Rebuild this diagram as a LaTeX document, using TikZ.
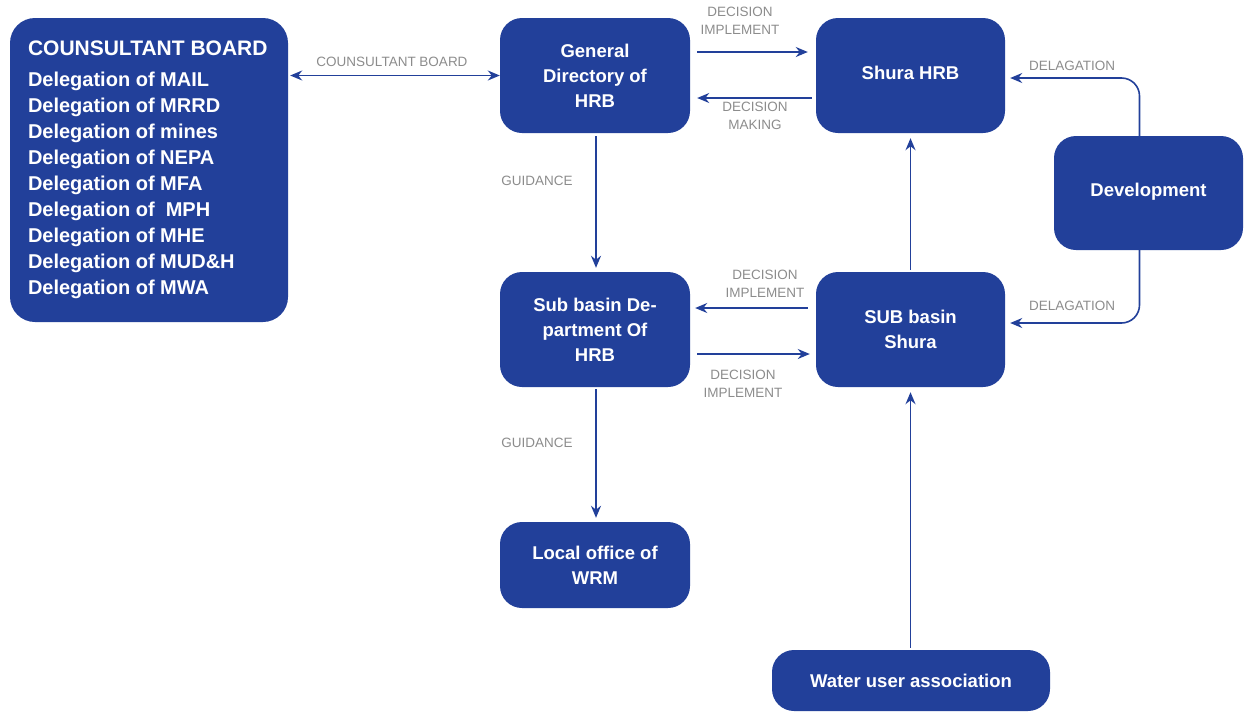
\documentclass[tikz,border=0pt]{standalone}
\usepackage{fontspec}
\setmainfont{Liberation Sans}
\usetikzlibrary{arrows.meta,calc}
\definecolor{hrbblue}{HTML}{22409A}
\definecolor{lblgray}{HTML}{8C8C8C}
\begin{document}
\begin{tikzpicture}[x=1pt,y=-1pt,
  box/.style={draw=none,fill=hrbblue,rounded corners=22pt,text=white,
    font=\fontsize{18.5}{25}\selectfont\bfseries,align=center,inner sep=0pt},
  lbl/.style={text=lblgray,font=\fontsize{13.5}{18.5}\selectfont,align=center,inner sep=0pt},
  arr/.style={draw=hrbblue,line width=1.6pt,-{Stealth[length=12pt,width=10pt]}},
  darr/.style={draw=hrbblue,line width=1.6pt,{Stealth[length=12pt,width=10pt]}-{Stealth[length=12pt,width=10pt]}}
]
\useasboundingbox (0,0) rectangle (1245,713);
% boxes
\node[box,minimum width=278pt,minimum height=304pt,rounded corners=25pt] (cb) at (149,170) {};
\node[box,anchor=west,align=left,font=\fontsize{20}{26}\selectfont\bfseries] (cbt) at ([xshift=18pt,yshift=0pt]cb.west)
  {{\fontsize{21}{26}\selectfont COUNSULTANT BOARD}\\[5pt]
   Delegation of MAIL\\
   Delegation of MRRD\\
   Delegation of mines\\
   Delegation of NEPA\\
   Delegation of MFA\\
   Delegation of \ MPH\\
   Delegation of MHE\\
   Delegation of MUD\&H\\
   Delegation of MWA};
\node[box,minimum width=190pt,minimum height=115pt] (gd) at (595,75.5) {General\\Directory of\\HRB};
\node[box,minimum width=189pt,minimum height=115pt] (sh) at (910.5,75.5) {\raisebox{5pt}{Shura HRB}};
\node[box,minimum width=189pt,minimum height=114pt] (dev) at (1148.5,193) {\raisebox{6pt}{Development}};
\node[box,minimum width=190pt,minimum height=115pt] (sbd) at (595,329.5) {Sub basin De-\\partment Of\\HRB};
\node[box,minimum width=189pt,minimum height=115pt] (sbs) at (910.5,329.5) {SUB basin\\Shura};
\node[box,minimum width=190pt,minimum height=86pt] (lo) at (595,565) {Local office of\\WRM};
\node[box,minimum width=278pt,minimum height=61pt] (wua) at (911,680.5) {Water user association};
% connectors
\draw[darr,shorten <=2pt] (cb.east |- gd.west) -- (gd.west);
\draw[arr,shorten <=7pt,shorten >=8pt] ([yshift=23.5pt]gd.east) -- ([yshift=23.5pt]sh.west);
\draw[arr,shorten <=4pt,shorten >=7pt] ([yshift=-22.5pt]sh.west) -- ([yshift=-22.5pt]gd.east);
\draw[arr,shorten <=3pt,shorten >=4pt] ([xshift=1pt]gd.south) -- ([xshift=1pt]sbd.north);
\draw[arr,shorten <=2pt,shorten >=4pt] ([xshift=1pt]sbd.south) -- ([xshift=1pt]lo.north);
\draw[arr,shorten <=8pt,shorten >=5pt] ([yshift=21.5pt]sbs.west) -- ([yshift=21.5pt]sbd.east);
\draw[arr,shorten <=7pt,shorten >=6pt] ([yshift=-24.5pt]sbd.east) -- ([yshift=-24.5pt]sbs.west);
\draw[arr,shorten <=2pt,shorten >=5pt] (sbs.north) -- (sh.south);
\draw[arr,shorten <=2pt,shorten >=5pt] (wua.north -| sbs.south) -- (sbs.south);
\draw[arr,rounded corners=18pt,shorten >=5pt] ([xshift=-9pt]dev.north) |- ([yshift=-2.5pt]sh.east);
\draw[arr,rounded corners=18pt,shorten >=5pt] ([xshift=-9pt]dev.south) |- ([yshift=6.5pt]sbs.east);
% labels
\node[lbl] (l1) at (392,62) {COUNSULTANT BOARD};
\node[lbl] (l2) at (740,21) {DECISION\\IMPLEMENT};
\node[lbl] (l3) at (755,116) {DECISION\\MAKING};
\node[lbl] (l4) at (537,181) {GUIDANCE};
\node[lbl] (l5) at (537,443) {GUIDANCE};
\node[lbl] (l6) at (765,284) {DECISION\\IMPLEMENT};
\node[lbl] (l7) at (743,384) {DECISION\\IMPLEMENT};
\node[lbl] (l8) at (1072,66) {DELAGATION};
\node[lbl] (l9) at (1072,306) {DELAGATION};
\end{tikzpicture}
\end{document}
